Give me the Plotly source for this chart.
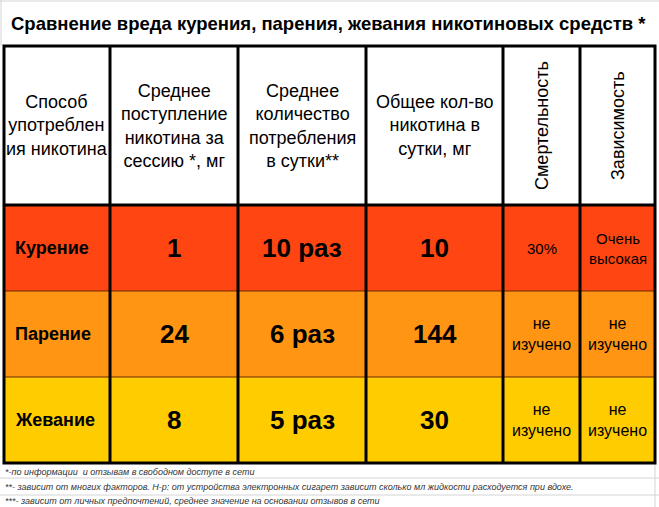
import numpy as np
import plotly.graph_objects as go

# --- table content ---
title = "Сравнение вреда курения, парения, жевания никотиновых средств *"
headers = [
    "Способ<br>употреблен<br>ия никотина",
    "Среднее<br>поступление<br>никотина за<br>сессию *, мг",
    "Среднее<br>количество<br>потребления<br>в сутки**",
    "Общее кол-во<br>никотина в<br>сутки, мг",
    "Смертельность",
    "Зависимость",
]
methods = ["Курение", "Парение", "Жевание"]
dose_per_session = [1, 24, 8]
times_per_day = [10, 6, 5]
total_per_day = [10, 144, 30]
mortality = ["30%", "не<br>изучено", "не<br>изучено"]
addiction = ["Очень<br>высокая", "не<br>изучено", "не<br>изучено"]
row_colors = ["#FF4511", "#FF9512", "#FFCC00"]
footnotes = [
    "*-по информации  и отзывам в свободном доступе в сети",
    "**- зависит от многих факторов. Н-р: от устройства электронных сигарет зависит сколько мл жидкости расходуется при вдохе.",
    "***- зависит от личных предпочтений, среднее значение на основании отзывов в сети",
]

# --- layout geometry (pixels) ---
W, H = 659, 507
col_widths = [106, 128, 128, 137, 77, 75]
row_heights = [159, 86, 86, 86]
x_edges = np.concatenate([[4], 4 + np.cumsum(col_widths)])
y_edges = np.concatenate([[46], 46 + np.cumsum(row_heights)])
xc = (x_edges[:-1] + x_edges[1:]) / 2
yc = (y_edges[:-1] + y_edges[1:]) / 2

FONT = "Liberation Sans, Arial, sans-serif"
fig = go.Figure()
shapes = []
annotations = []

def line(x0, y0, x1, y1, color, width):
    shapes.append(dict(type="line", xref="x", yref="y", x0=x0, x1=x1, y0=y0, y1=y1,
                       line=dict(color=color, width=width)))

# row fills
for i, color in enumerate(row_colors):
    shapes.append(dict(type="rect", xref="x", yref="y",
                       x0=x_edges[0], x1=x_edges[-1], y0=y_edges[i + 1], y1=y_edges[i + 2],
                       fillcolor=color, line=dict(width=0), layer="below"))

# faint spreadsheet gridlines
for y in [1, 478, 495]:
    line(0, y, W, y, "#d4d4d4", 1)
line(1, 0, 1, y_edges[0], "#d4d4d4", 1)
line(x_edges[-1], y_edges[-1], x_edges[-1], H, "#d4d4d4", 1)

# thin row separators
for y in y_edges[2:-1]:
    line(x_edges[0], y, x_edges[-1], y, "#6b2a00", 1)

# thick grid: verticals, header bottom and outer frame
for x in x_edges[1:-1]:
    line(x, y_edges[0], x, y_edges[-1], "black", 3)
line(x_edges[0], y_edges[1], x_edges[-1], y_edges[1], "black", 3)
shapes.append(dict(type="rect", xref="x", yref="y", x0=x_edges[0], x1=x_edges[-1],
                   y0=y_edges[0], y1=y_edges[-1], line=dict(color="black", width=3)))

# title
annotations.append(dict(x=9, y=23, xref="x", yref="y", text="<b>" + title + "</b>",
                        showarrow=False, xanchor="left", yanchor="middle",
                        font=dict(family=FONT, size=18.5, color="black")))

# header
for j, h in enumerate(headers):
    rotated = j >= 4
    annotations.append(dict(x=xc[j], y=yc[0], xref="x", yref="y", text=h,
                            showarrow=False, xanchor="center", yanchor="middle",
                            textangle=-90 if rotated else 0,
                            font=dict(family=FONT, size=18, color="black")))

# body
for i in range(len(methods)):
    y = yc[i + 1]
    annotations.append(dict(x=x_edges[0] + 9, y=y, xref="x", yref="y",
                            text="<b>" + methods[i] + "</b>", showarrow=False,
                            xanchor="left", yanchor="middle",
                            font=dict(family=FONT, size=18, color="black")))
    big = [str(dose_per_session[i]), f"{times_per_day[i]} раз", str(total_per_day[i])]
    for k, val in enumerate(big):
        annotations.append(dict(x=xc[k + 1], y=y, xref="x", yref="y",
                                text="<b>" + val + "</b>", showarrow=False,
                                xanchor="center", yanchor="middle",
                                font=dict(family=FONT, size=26, color="black")))
    for k, val in enumerate([mortality[i], addiction[i]]):
        annotations.append(dict(x=xc[k + 4], y=y, xref="x", yref="y", text=val,
                                showarrow=False, xanchor="center", yanchor="middle",
                                font=dict(family=FONT, size=15 if i == 0 else 16, color="black")))

# footnotes
for fn, fy in zip(footnotes, [472, 487, 501]):
    annotations.append(dict(x=3, y=fy, xref="x", yref="y", text="<i>" + fn + "</i>",
                            showarrow=False, xanchor="left", yanchor="middle",
                            font=dict(family=FONT, size=9, color="#333333")))

fig.update_layout(
    width=W, height=H,
    margin=dict(l=0, r=0, t=0, b=0),
    paper_bgcolor="white", plot_bgcolor="white",
    xaxis=dict(range=[0, W], visible=False, fixedrange=True),
    yaxis=dict(range=[H, 0], visible=False, fixedrange=True),
    shapes=shapes, annotations=annotations,
    showlegend=False,
)

# page body has a default 8px margin; drop it so the figure fills the window
fig.write_html("out.html", config={"displayModeBar": False},
               post_script="document.body.style.margin='0';document.body.style.overflow='hidden';")
